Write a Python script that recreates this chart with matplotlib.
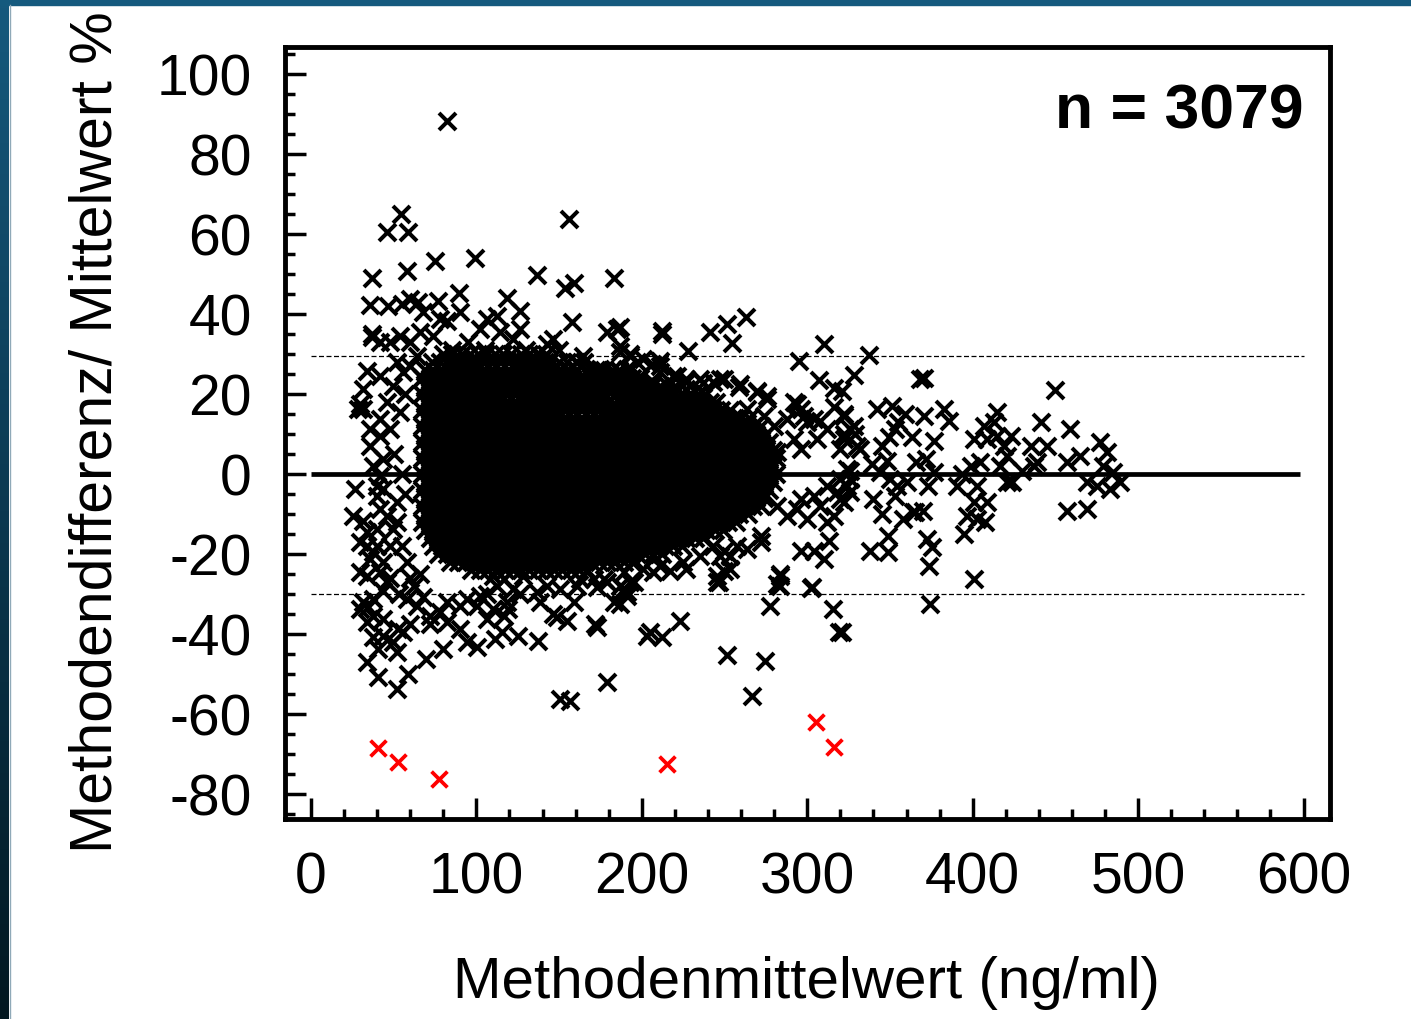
import matplotlib.pyplot as plt
from matplotlib.ticker import MultipleLocator
from matplotlib.patches import Rectangle
from matplotlib.lines import Line2D
from matplotlib.colors import LinearSegmentedColormap
import numpy as np

plt.rcParams["font.family"] = ["Liberation Sans", "DejaVu Sans"]
plt.rcParams["axes.unicode_minus"] = False

# dense core of the cloud: (difference %, [mean values in ng/ml])
core_rows = [
    (30, [80, 85, 91, 96, 101, 106, 111, 116, 121, 127, 132, 137, 142]),
    (28, [73, 78, 83, 88, 93, 98, 104, 109, 114, 119, 124, 129, 134, 139, 144, 150, 155, 160, 165]),
    (26, [69, 74, 79, 85, 90, 95, 100, 105, 110, 115, 120, 126, 131, 136, 141, 146, 151, 156, 161, 167,
          172, 177, 182, 186]),
    (24, [67, 72, 77, 82, 87, 92, 97, 102, 108, 113, 118, 123, 128, 133, 138, 143, 148, 153, 158, 164,
          169, 174, 179, 184, 189, 194, 199]),
    (22, [69, 74, 79, 84, 89, 94, 100, 105, 110, 115, 120, 125, 130, 135, 140, 145, 151, 156, 161, 166,
          171, 176, 181, 186, 191, 196, 201, 206, 211, 216, 220]),
    (20, [67, 72, 77, 82, 87, 92, 97, 102, 107, 112, 118, 123, 128, 133, 138, 143, 148, 153, 158, 163,
          168, 173, 178, 184, 189, 194, 199, 204, 209, 214, 219, 224, 229, 234, 238]),
    (18, [69, 74, 79, 84, 89, 94, 99, 104, 109, 114, 119, 124, 130, 135, 140, 145, 150, 155, 160, 165,
          170, 175, 180, 186, 191, 196, 201, 206, 211, 216, 221, 226, 231, 236, 241, 245]),
    (16, [67, 72, 77, 82, 87, 92, 97, 102, 107, 112, 117, 122, 127, 132, 137, 142, 147, 153, 158, 163,
          168, 173, 178, 183, 188, 193, 198, 203, 208, 213, 218, 223, 228, 233, 238, 243, 248, 253]),
    (14, [69, 74, 79, 84, 89, 94, 99, 104, 109, 114, 119, 124, 129, 134, 139, 144, 149, 154, 159, 164,
          169, 174, 180, 185, 190, 195, 200, 205, 210, 215, 220, 225, 230, 235, 240, 245, 250, 255, 260, 265]),
    (12, [67, 72, 77, 82, 87, 92, 97, 102, 107, 112, 117, 122, 127, 132, 137, 142, 147, 152, 157, 162,
          167, 172, 177, 182, 187, 192, 197, 202, 207, 212, 217, 222, 227, 232, 237, 242, 247, 252, 257,
          262, 267, 272]),
    (10, [69, 74, 79, 84, 89, 94, 99, 104, 109, 114, 119, 124, 129, 134, 139, 144, 149, 154, 159, 164,
          169, 174, 179, 184, 189, 194, 199, 204, 209, 214, 219, 224, 229, 234, 239, 244, 249, 254, 259,
          264, 269, 275]),
    (8, [67, 72, 77, 82, 87, 92, 97, 102, 107, 112, 117, 122, 127, 132, 137, 142, 147, 152, 157, 162,
         167, 172, 177, 182, 187, 192, 197, 202, 207, 212, 217, 222, 227, 232, 237, 242, 247, 252, 257,
         262, 267, 272, 277]),
    (6, [69, 74, 79, 84, 89, 94, 99, 104, 109, 114, 119, 124, 129, 134, 139, 145, 150, 155, 160, 165,
         170, 175, 180, 185, 190, 195, 200, 205, 210, 215, 220, 225, 230, 235, 240, 245, 250, 255, 260,
         265, 270, 275, 279]),
    (4, [67, 72, 77, 82, 87, 92, 97, 102, 107, 112, 117, 122, 127, 132, 137, 142, 147, 152, 157, 162,
         167, 172, 177, 182, 187, 192, 197, 202, 207, 212, 217, 222, 227, 232, 237, 242, 247, 252, 257,
         262, 267, 272, 277, 281]),
    (2, [69, 74, 79, 84, 89, 94, 99, 104, 109, 114, 119, 124, 129, 134, 139, 144, 149, 154, 159, 164,
         169, 174, 179, 184, 189, 194, 199, 204, 209, 214, 219, 224, 229, 234, 239, 244, 249, 254, 259,
         264, 269, 274, 279]),
    (0, [67, 72, 77, 82, 87, 92, 97, 102, 107, 112, 117, 122, 127, 132, 137, 142, 147, 152, 157, 162,
         167, 172, 177, 182, 187, 192, 197, 202, 207, 212, 217, 222, 227, 232, 237, 242, 247, 252, 257,
         262, 267, 272, 277, 281]),
    (-2, [69, 74, 79, 84, 89, 94, 99, 104, 109, 114, 119, 124, 129, 134, 139, 144, 149, 154, 159, 164,
          169, 174, 179, 184, 189, 194, 199, 204, 209, 214, 219, 224, 229, 234, 239, 244, 249, 254, 259,
          264, 269, 274, 279]),
    (-4, [67, 72, 77, 82, 87, 92, 97, 102, 107, 112, 117, 122, 127, 132, 137, 142, 147, 152, 157, 162,
          167, 172, 177, 182, 187, 192, 197, 202, 207, 212, 217, 222, 227, 232, 237, 242, 247, 252, 257,
          262, 267, 272, 277]),
    (-6, [69, 74, 79, 84, 89, 94, 99, 104, 109, 114, 119, 124, 129, 134, 139, 144, 149, 154, 159, 164,
          169, 174, 179, 184, 189, 194, 199, 204, 209, 214, 219, 224, 229, 234, 239, 244, 249, 254, 259,
          264, 269, 274]),
    (-8, [67, 72, 77, 82, 87, 92, 97, 102, 107, 112, 117, 122, 127, 132, 137, 142, 147, 152, 157, 162,
          167, 172, 177, 182, 187, 192, 197, 202, 207, 212, 217, 222, 227, 232, 237, 242, 247, 252, 257,
          262, 267, 272]),
    (-10, [69, 74, 79, 84, 89, 94, 99, 104, 109, 114, 119, 124, 129, 134, 139, 144, 149, 154, 159, 164,
           169, 174, 179, 184, 189, 194, 199, 204, 209, 214, 219, 224, 229, 234, 239, 244, 249, 254, 259,
           264]),
    (-12, [67, 72, 77, 82, 87, 92, 97, 102, 107, 112, 117, 122, 127, 132, 137, 142, 147, 152, 157, 162,
           167, 172, 177, 182, 187, 192, 197, 202, 207, 212, 217, 222, 227, 232, 237, 242, 247, 252, 257]),
    (-14, [69, 74, 79, 84, 89, 94, 99, 104, 109, 114, 119, 124, 129, 134, 139, 144, 149, 154, 159, 164,
           169, 174, 179, 184, 189, 194, 199, 204, 209, 214, 219, 224, 229, 234, 239, 244, 249]),
    (-16, [72, 77, 82, 87, 92, 97, 102, 107, 112, 117, 122, 127, 132, 137, 142, 147, 152, 157, 162,
           167, 172, 177, 182, 187, 192, 197, 202, 207, 212, 217, 222, 227, 232, 237]),
    (-18, [74, 79, 84, 89, 94, 99, 104, 109, 114, 119, 124, 129, 134, 139, 144, 149, 154, 159, 164,
           169, 174, 179, 184, 189, 194, 199, 204, 209, 214, 219, 224]),
    (-20, [77, 82, 87, 92, 97, 102, 107, 112, 117, 122, 127, 132, 137, 142, 147, 152, 157, 162,
           167, 172, 177, 182, 187, 192, 197, 202, 207, 212]),
    (-22, [84, 89, 94, 99, 104, 109, 114, 119, 124, 129, 134, 139, 144, 149, 154, 159, 164, 169, 174,
           179, 184, 189, 194]),
    (-24, [97, 102, 107, 112, 117, 122, 127, 132, 137, 142, 147, 152, 157, 162, 167]),
]

# scattered points around the core (mean, difference %)
fringe = [
    (82, 88.3), (54.4, 65), (45.8, 60.4), (58.9, 60.6), (75, 53.2), (99.2, 53.9), (36.7, 48.9),
    (57.9, 50.7), (136.5, 49.75), (155.7, 63.75), (153.7, 46.4), (158.7, 47.7), (183.3, 48.9),
    (157.7, 38.1), (35.7, 42.25), (46.8, 42), (54.9, 42.5), (59.9, 43.75), (64.9, 42.9), (77, 43.3),
    (89.7, 45.2), (118.4, 43.9), (126.4, 40.8), (90.1, 40.4), (68, 40.4), (78, 38.75), (82, 38.3),
    (36.7, 34.2), (41.7, 32.9), (178.9, 35.4), (185, 36.25), (146.6, 33.75), (142.6, 32.5),
    (106.3, 38.75), (112.3, 39.6), (102.2, 36.25), (114.3, 35.4), (126.4, 36.25), (122.4, 33.75),
    (164.7, 29.6), (186.9, 30.4), (193, 29.6), (85, 31), (95, 33), (105, 31), (130, 31), (140, 29),
    (150, 31),
    (187, 36.75), (212, 35.8), (212, 35), (228, 30.8), (241.4, 35.4), (251.5, 37.5), (263.2, 39.3),
    (254.5, 32.7), (294.8, 28.2), (309.9, 32.5), (337.2, 29.8), (306.9, 23.5), (316, 21.5),
    (321, 20.7), (328, 24.75), (368.4, 23.75), (187, 32), (193, 30), (201, 28.75), (206, 27.5),
    (211, 28.3), (227, 23.75), (237, 22.7), (247, 23.75), (258.5, 21.7), (269.6, 20.8),
    (275.7, 19.6), (191, 26.25), (199, 24.6), (211, 25.4), (219, 24.6), (227, 21.25),
    (316, 16.7), (322, 15), (304, 13.75), (298, 14.6), (294, 17.5), (328, 12), (330, 7), (322, 10),
    (312, 11.25), (306, 8.75), (320, 6.25), (292, 8.75), (296, 6.25), (282, 5.4), (324, 1.25),
    (326, -1.25), (312, -2.9), (304, -5.4), (296, -6.25), (318, -4.6), (308, -7.9), (322, -7.1),
    (300, -11.25), (312, -12), (316, -10.4), (294, -8.75), (288, -10.4), (282, -7.9), (313, -16.7),
    (310, -21.25), (304, -19.2), (296, -19.2), (272, -17.1), (257.5, -17.9), (249.4, -19.2),
    (283.7, -25.4), (281.7, -27.5), (302.8, -28.3), (245.4, -25.4), (245.4, -27.1), (247.4, -20.4),
    (259.5, 22.5), (269.6, 20.4), (275.7, 18.75), (263.6, 16.25), (273.6, 14.6), (279.7, 12),
    (291.9, 17.9), (296, 16.25), (287.8, 13.75), (300, 12.9), (308, 13.3), (160.7, 27.9),
    (174.8, 26.25), (187, 25.4), (197, 27.9), (211, 27), (221, 24.6), (227, 22.9), (235, 23.75),
    (243, 22.9), (249.4, 23.75), (207, 22.9), (197, 22), (217, 20.4), (158.7, -22.1), (170.8, -26.25),
    (178.9, -27.1), (189, -28.75), (201, -23.75), (211, -22.9), (225, -22.1), (235, -20.4),
    (243, -17.9), (253.5, -20.4), (263.6, -18.75), (272, -15.4),
    (370.5, 23.9), (450, 21.1), (342, 16.25), (351, 17.1), (359, 15), (355, 12.9), (370.5, 14.6),
    (382.6, 16.25), (385.6, 13.3), (376.5, 8.3), (363.4, 9.2), (353.3, 11.25), (349.3, 9.2),
    (345, 7.1), (332, 6.25), (326, 11.25), (329, 10), (322, 14.6), (322, 8.75), (339, 2.5),
    (344, 0.4), (348, 3.3), (366, 2.9), (372, 3.75), (376.5, 0.4), (360, -2.1), (354, -2.9),
    (350, -1.25), (326, 0.8), (320, -1.25), (324, -2.9), (320, -6.25), (326, -4.6), (340, -6.25),
    (345, -10), (358, -11.25), (364, -9.6), (370, -9.2), (353, -5.4), (373, -2.9), (338, -19.2),
    (349, -19.6), (349, -15.4), (372.5, -16.25), (375.5, -18.3), (373.5, -22.9), (365, -9.6),
    (374.5, -32.5), (400.7, -26.25), (394.6, -15), (396.7, -10.4), (402.7, -11.25), (407.7, -12.1),
    (408.8, -7.1), (400.7, -7.1), (402.7, -2.9), (393.6, 0), (390.6, -2.9), (398.7, 2.1),
    (404.7, 2.9), (400.7, 8.75), (406.8, 12.1), (414.8, 15.4), (412.8, 12.9), (418.8, 7.1),
    (420.8, 4.6), (408.8, 8.75), (414.8, 9.6), (422.9, 9.6), (416.8, 2.1), (423.9, -2.1), (430, 0.8),
    (437, 2.1), (435, 7.1), (441, 12.9), (445, 7.1), (439, 2.9), (459, 11.25), (457, 2.9),
    (465, 4.6), (469, -2.1), (457, -9.2), (469, -8.75), (477, 7.9), (481, 5.4), (479, 2.1),
    (485, 0.4), (489, -2.1), (483, -3.75), (475, -2.9), (420.8, -2.1),
    (205, -39.6), (212, -40.8), (203, -40.4), (222.8, -36.8), (251.5, -45.25), (274.6, -46.7),
    (266.7, -55.4), (277.3, -32.9), (283.7, -25), (283.7, -27.9), (302.5, -28.6), (315.4, -33.75),
    (319, -39.6), (321, -39.6), (246.4, -27), (249.4, -24.2), (253.5, -23.75), (191, -30.4),
    (187, -32.5), (207, -24.6), (217, -24.2), (227, -23.75), (193, -27),
    (51.8, -53.75), (40.7, -50.8), (58.9, -50), (33.7, -46.9), (69.6, -46.25), (80, -43.75),
    (51.8, -44.6), (49.8, -42.1), (40.7, -43.75), (43.7, -40.4), (37.7, -40.8), (55.8, -39.6),
    (59.9, -37.5), (52.8, -38.75), (33.7, -37.1), (37.7, -35.4), (43.7, -36.25), (31.6, -32.1),
    (29.6, -33.75), (34.7, -33.3), (72, -37.5), (82, -37.1), (90, -38.75), (94.2, -42.1),
    (100.2, -43.3), (111.3, -41.25), (115.4, -39.6), (125.4, -40.4), (137.5, -41.7), (106.3, -36.25),
    (116.4, -35.4), (119.4, -33.75), (148.6, -35.8), (154.7, -36.7), (171.8, -37.5), (172.8, -38.3),
    (178.9, -52.1), (150.6, -56.25), (156.7, -56.7), (187, -27.9), (191, -29.6), (183, -32.1),
    (158.7, -32.1), (146.6, -35), (160.7, -27.9), (162.7, -26.25), (142.6, -27.9), (136.5, -29.6),
    (122.4, -28.75), (112.3, -27.9), (106.3, -30), (118.4, -32.1), (110.3, -33.75), (100.2, -32.9),
    (90.1, -32.9), (78, -34.6), (72, -35.4), (63.9, -32.9), (57.9, -31.25), (68, -30.8),
    (82.1, -32.1), (94.2, -31.25), (102.2, -30.4), (126.4, -30), (138.5, -32.1), (150.6, -28.75),
    (128.4, -25.4), (116.4, -26.25), (110.3, -25.4), (172.8, -28.3), (176.9, -26.25), (189, -24.6),
    (195, -27), (29.6, -17.1), (37.7, -19.6), (33.7, -25.4), (41.7, -24.6), (43.7, -29.2),
    (37.7, -31.25), (45.8, -27.1),
    (26.6, -3.75), (36.7, 35), (33.7, 25.8), (31.6, 21.25), (31.6, 16.25), (35.7, 11.25),
    (35.7, 7.1), (43.7, 3.75), (41.7, 24.6), (49.8, 22.1), (45.8, 17.9), (41.7, 13.75),
    (47.8, 11.25), (41.7, 9.6), (53.8, 15.4), (55.8, 25.4), (59.9, 27.1), (47.8, 32.9),
    (53.8, 34.6), (59.9, 32.9), (63.9, 29.6), (74, 34.6), (66, 35.4), (25.6, -10.4), (31.6, -11.7),
    (33.7, -14.6), (39.7, -13.75), (33.7, -17.9), (39.7, -17.9), (35.7, -21.25), (29.6, -24.6),
    (41.7, -8.75), (43.7, -3.75), (39.7, -5.4), (51.8, -7.1), (45.8, -10.4), (49.8, -13.75),
    (47.8, -17.9), (43.7, -22.1), (39.7, -2.9), (41.7, -0.4), (37.7, 2.1), (28.4, 16.25),
    (29.6, 17.5), (52, 28), (57, 20), (50, 5), (55, 0), (57, -5), (52, -12), (55, -18), (58, -22),
    (60, -26), (48, -26), (53, -30), (62, -28), (66, -25),
]

# points outside the plotted limits (red)
red_x = [40.7, 52.8, 77.6, 215.2, 305.5, 316.4]
red_y = [-68.6, -71.9, -76.25, -72.5, -61.9, -68.2]

mean_diff = 0
limits = [29.5, -30]

xs, ys = [], []
for y, row in core_rows:
    xs.extend(row)
    ys.extend([y] * len(row))
for x, y in fringe:
    xs.append(x)
    ys.append(y)

W, H = 1411, 1020
fig = plt.figure(figsize=(W / 100, H / 100), dpi=100)
fig.patch.set_facecolor("white")

# blue frame at top and left edges
fig.patches.append(Rectangle((0, 1 - 6 / H), 1, 6 / H, transform=fig.transFigure,
                             color="#155a7e", zorder=0))
strip = fig.add_axes([0, 0, 9 / W, 1 - 5 / H])
grad = np.linspace(0, 1, 256).reshape(-1, 1)
cmap = LinearSegmentedColormap.from_list("edge", ["#16597d", "#0b3850", "#021720"])
strip.imshow(grad, aspect="auto", cmap=cmap)
strip.axis("off")
fig.add_artist(Line2D([9.5 / W, 9.5 / W], [0, 1 - 6 / H], transform=fig.transFigure,
                      color="#8fa9b8", lw=1))

ax = fig.add_axes([285 / W, 1 - 820 / H, (1330 - 285) / W, (820 - 48) / H])
ax.scatter(xs, ys, marker="x", s=150, c="black", linewidths=2.9, zorder=2)
ax.scatter(red_x, red_y, marker="x", s=130, c="#ff0000", linewidths=2.7, zorder=2)

ax.hlines(mean_diff, 0, 598, colors="black", lw=3.4, zorder=3)
for lim in limits:
    ax.hlines(lim, 0, 600, colors="black", lw=0.9, linestyles=(0, (4, 2)), zorder=3)

ax.set_xlim(-15.7, 616)
ax.set_ylim(-86.25, 106.75)
ax.xaxis.set_minor_locator(MultipleLocator(20))
ax.yaxis.set_minor_locator(MultipleLocator(5))
ax.set_xticks(range(0, 601, 100))
ax.set_yticks(range(-80, 101, 20))

ax.tick_params(axis="both", which="both", direction="in", top=False, right=False, width=2.5)
ax.tick_params(axis="both", which="major", length=15, labelsize=41)
ax.tick_params(axis="both", which="minor", length=7.5)
ax.tick_params(axis="x", which="major", pad=23)
ax.tick_params(axis="y", which="major", pad=24)

for sp in ax.spines.values():
    sp.set_linewidth(3.5)

fig.text(806 / W, 1 - 983 / H, "Methodenmittelwert (ng/ml)", fontsize=42,
         ha="center", va="center")
fig.text(96 / W, 1 - 432 / H, "Methodendifferenz/ Mittelwert %", fontsize=42.5,
         ha="center", va="center", rotation=90)
fig.text(1304 / W, 1 - 112 / H, "n = 3079", fontsize=45, fontweight="bold",
         ha="right", va="center")

fig.savefig("out.png", dpi=100)
